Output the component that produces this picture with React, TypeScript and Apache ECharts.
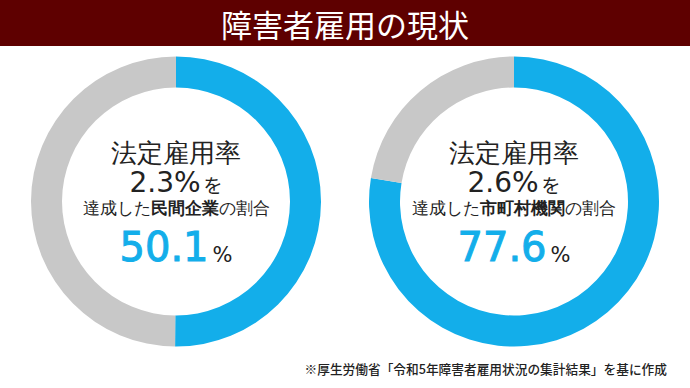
import React, { useEffect, useRef } from "react";
import * as echarts from "echarts";

const titleText = "障害者雇用の現状";
const sourceText = "※厚生労働省「令和5年障害者雇用状況の集計結果」を基に作成";
const headings = ["法定雇用率", "法定雇用率"];
const legalRates = ["2.3", "2.6"];
const targets = ["民間企業", "市町村機関"];
const achieved = [50.1, 77.6];
const centersX = [176, 514];

const BLUE = "#13aeea";
const GRAY = "#c8c8c8";
const FONT = "'Noto Sans CJK JP', 'Noto Sans', sans-serif";
const NUMFONT = "'DejaVu Sans', 'Noto Sans CJK JP', sans-serif";

export default function App() {
  const ref = useRef<HTMLDivElement>(null);
  useEffect(() => {
    document.body.style.margin = "0";
    const chart = echarts.init(ref.current!, null, { renderer: "svg" });
    const cy = 201.5;
    const series = achieved.map((v, i) => ({
      type: "pie",
      center: [centersX[i], cy],
      radius: [114, 145],
      startAngle: 90,
      clockwise: true,
      silent: true,
      label: { show: false },
      labelLine: { show: false },
      itemStyle: { borderWidth: 0 },
      data: [
        { value: v, itemStyle: { color: BLUE } },
        { value: +(100 - v).toFixed(1), itemStyle: { color: GRAY } },
      ],
    }));
    const texts: any[] = [];
    achieved.forEach((v, i) => {
      const x = centersX[i];
      texts.push({
        type: "text",
        x,
        y: 153,
        style: {
          text: `{h|${headings[i]}}`,
          align: "center",
          verticalAlign: "middle",
          rich: {
            h: { font: `26px ${FONT}`, fontSize: 26, fill: "#222", lineHeight: 24 },
          },
        },
      });
      texts.push({
        type: "text",
        x,
        y: 182,
        style: {
          text: `{a|${legalRates[i]}%}{b|を}`,
          align: "center",
          verticalAlign: "middle",
          rich: {
            a: { font: `28px ${NUMFONT}`, fontSize: 28, fontFamily: NUMFONT, fill: "#222", verticalAlign: "middle", lineHeight: 24 },
            b: { font: `19px ${FONT}`, fontSize: 19, fontFamily: FONT, fill: "#222", verticalAlign: "middle", lineHeight: 24, padding: [4, 0, 0, 3] },
          },
        },
      });
      texts.push({
        type: "text",
        x,
        y: 208,
        style: {
          text: `{a|達成した}{b|${targets[i]}}{a|の割合}`,
          align: "center",
          verticalAlign: "middle",
          rich: {
            a: { font: `17px ${FONT}`, fontSize: 17, fill: "#222", lineHeight: 18 },
            b: { font: `bold 17px ${FONT}`, fontSize: 17, fontWeight: "bold", fill: "#222", lineHeight: 18 },
          },
        },
      });
      texts.push({
        type: "text",
        x,
        y: 247,
        style: {
          text: `{a|${v.toFixed(1)}}{b|%}`,
          align: "center",
          verticalAlign: "middle",
          rich: {
            a: {
              font: `40px ${NUMFONT}`,
              fontSize: 40,
              fontFamily: NUMFONT,
              fill: BLUE,
              stroke: BLUE,
              lineWidth: 1,
              verticalAlign: "bottom",
            },
            b: {
              font: `21px ${NUMFONT}`,
              fontSize: 21,
              fontFamily: NUMFONT,
              fill: "#222",
              padding: [0, 0, 2, 4],
              verticalAlign: "bottom",
            },
          },
        },
      });
    });
    chart.setOption({
      animation: false,
      backgroundColor: "#ffffff",
      series,
      graphic: [
        {
          type: "rect",
          shape: { x: 0, y: 0, width: 690, height: 46 },
          style: { fill: "#5e0000" },
          z: 0,
        },
        {
          type: "text",
          x: 345,
          y: 23,
          style: {
            text: titleText,
            font: `31px ${FONT}`,
            fill: "#ffffff",
            align: "center",
            verticalAlign: "middle",
          },
        },
        {
          type: "text",
          x: 667,
          y: 368,
          style: {
            text: sourceText,
            font: `500 12.7px ${FONT}`,
            fill: "#222",
            align: "right",
            verticalAlign: "middle",
          },
        },
        ...texts,
      ],
    });
    return () => chart.dispose();
  }, []);
  return <div ref={ref} style={{ width: 690, height: 388 }} />;
}
